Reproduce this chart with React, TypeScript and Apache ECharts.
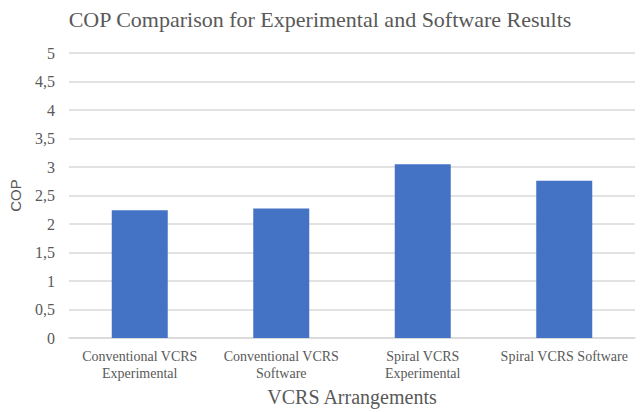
import React, { useEffect, useRef } from "react";
import * as echarts from "echarts";

const categories = [
  "Conventional VCRS\nExperimental",
  "Conventional VCRS\nSoftware",
  "Spiral VCRS\nExperimental",
  "Spiral VCRS Software",
];
const copValues = [2.24, 2.27, 3.05, 2.76];
const chartTitle = "COP Comparison for Experimental and Software Results";
const xAxisName = "VCRS Arrangements";
const yAxisName = "COP";

export default function App() {
  const ref = useRef<HTMLDivElement>(null);
  useEffect(() => {
    if (!ref.current) return;
    const chart = echarts.init(ref.current, undefined, { renderer: "svg" });
    const serif = "'Liberation Serif', 'Times New Roman', serif";
    const sans = "'Liberation Sans', Arial, sans-serif";
    chart.setOption({
      animation: false,
      backgroundColor: "#ffffff",
      textStyle: { fontFamily: serif, color: "#595959" },
      title: {
        text: chartTitle,
        left: "center",
        top: 3,
        textStyle: {
          fontFamily: serif,
          fontSize: 22,
          fontWeight: "normal",
          color: "#595959",
        },
      },
      grid: { left: 65, right: 5, top: 53, bottom: 74 },
      xAxis: {
        type: "category",
        data: categories,
        name: xAxisName,
        nameLocation: "middle",
        nameGap: 47,
        nameTextStyle: { fontFamily: serif, fontSize: 20, color: "#595959" },
        axisLine: { lineStyle: { color: "#d9d9d9", width: 1.5 } },
        axisTick: { show: false },
        axisLabel: {
          interval: 0,
          margin: 10,
          fontFamily: serif,
          fontSize: 14,
          lineHeight: 17,
          color: "#595959",
        },
      },
      yAxis: {
        type: "value",
        min: 0,
        max: 5,
        interval: 0.5,
        name: yAxisName,
        nameLocation: "middle",
        nameRotate: 90,
        nameGap: 46,
        nameTextStyle: {
          fontFamily: sans,
          fontSize: 15,
          color: "#595959",
        },
        axisLine: { show: false },
        axisTick: { show: false },
        splitLine: { lineStyle: { color: "#d9d9d9", width: 1.5 } },
        axisLabel: {
          margin: 14,
          fontFamily: serif,
          fontSize: 16,
          color: "#595959",
          formatter: (v: number) => String(v).replace(".", ","),
        },
      },
      series: [
        {
          type: "bar",
          data: copValues,
          barWidth: 56,
          itemStyle: { color: "#4472C4" },
        },
      ],
    });
    return () => chart.dispose();
  }, []);
  return (
    <div
      ref={ref}
      style={{ position: "fixed", left: 0, top: 0, width: 640, height: 412 }}
    />
  );
}
